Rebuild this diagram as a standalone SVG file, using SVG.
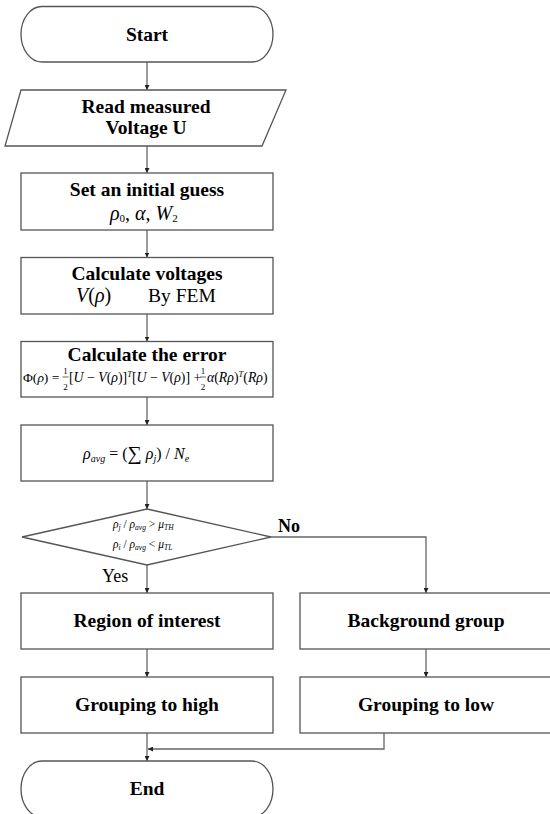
<svg xmlns="http://www.w3.org/2000/svg" width="550" height="814" viewBox="0 0 550 814">
<style>
.box{fill:#fff;stroke:#555;stroke-width:1.3}
.ln{fill:none;stroke:#666;stroke-width:1.3}
.t{font-family:"Liberation Serif",serif;font-weight:bold;font-size:19.5px;text-anchor:middle;fill:#000}
.r{font-family:"Liberation Serif",serif;font-size:19.5px;fill:#000}
.m{font-family:"Liberation Serif",serif;fill:#000}
.i{font-style:italic}
</style>
<defs>
<marker id="ah" viewBox="0 0 10 10" refX="10" refY="5" markerWidth="5" markerHeight="5" orient="auto" markerUnits="userSpaceOnUse">
<path d="M0,0 L10,5 L0,10 Z" fill="#222"/>
</marker>
</defs>
<rect width="550" height="814" fill="#fff"/>
<g id="connectors">
<line class="ln" x1="147" y1="62" x2="147" y2="90" marker-end="url(#ah)"/>
<line class="ln" x1="147" y1="146" x2="147" y2="173" marker-end="url(#ah)"/>
<line class="ln" x1="147" y1="230" x2="147" y2="257.5" marker-end="url(#ah)"/>
<line class="ln" x1="147" y1="314" x2="147" y2="341.5" marker-end="url(#ah)"/>
<line class="ln" x1="147" y1="397" x2="147" y2="425" marker-end="url(#ah)"/>
<line class="ln" x1="147" y1="481" x2="147" y2="509" marker-end="url(#ah)"/>
<line class="ln" x1="147" y1="565" x2="147" y2="593" marker-end="url(#ah)"/>
<polyline class="ln" points="271,537 426,537 426,593" marker-end="url(#ah)"/>
<line class="ln" x1="147" y1="649" x2="147" y2="677" marker-end="url(#ah)"/>
<line class="ln" x1="426" y1="649" x2="426" y2="677" marker-end="url(#ah)"/>
<line class="ln" x1="147" y1="733" x2="147" y2="761" marker-end="url(#ah)"/>
<polyline class="ln" points="384,733 384,749 148,749" marker-end="url(#ah)"/>
<text class="m" x="278" y="532" font-size="18" font-weight="bold">No</text>
<text class="m" x="102" y="582" font-size="18">Yes</text>
</g>
<g id="start">
<rect class="box" x="21" y="6.5" width="252" height="55.5" rx="21" ry="27.75"/>
<text class="t" x="147" y="41">Start</text>
</g>
<g id="read">
<polygon class="box" points="21,90 286,90 262,146 5,146"/>
<text class="t" x="146" y="113">Read measured</text>
<text class="t" x="146" y="134">Voltage U</text>
</g>
<g id="guess">
<rect class="box" x="21" y="173" width="252" height="57"/>
<text class="t" x="147" y="196">Set an initial guess</text>
<text class="m" x="110" y="220" font-size="20"><tspan class="i">ρ</tspan><tspan font-size="11" dy="2">0</tspan><tspan dy="-2">, </tspan><tspan class="i">α</tspan><tspan>, </tspan><tspan class="i">W</tspan><tspan font-size="11" dy="2">2</tspan></text>
</g>
<g id="fem">
<rect class="box" x="21" y="257.5" width="252" height="56.5"/>
<text class="t" x="147" y="280">Calculate voltages</text>
<text class="m" x="76" y="302" font-size="20"><tspan class="i">V</tspan>(<tspan class="i">ρ</tspan>)</text>
<text class="r" x="148" y="302">By FEM</text>
</g>
<g id="error">
<rect class="box" x="21" y="341.5" width="252" height="55.5"/>
<text class="t" x="147" y="361">Calculate the error</text>
<text class="m" x="23" y="382" font-size="13.5">Φ(<tspan class="i">ρ</tspan>) =</text>
<text class="m" x="65.5" y="374" font-size="9" text-anchor="middle">1</text>
<line x1="62.5" y1="377" x2="68.5" y2="377" stroke="#000" stroke-width="0.6"/>
<text class="m" x="65.5" y="390" font-size="9" text-anchor="middle">2</text>
<text class="m" x="69" y="382" font-size="13.8">[<tspan class="i">U</tspan> − <tspan class="i">V</tspan>(<tspan class="i">ρ</tspan>)]<tspan font-size="8.5" class="i" dy="-5">T</tspan><tspan dy="5">[</tspan><tspan class="i">U</tspan> − <tspan class="i">V</tspan>(<tspan class="i">ρ</tspan>)] +</text>
<text class="m" x="203" y="374" font-size="9" text-anchor="middle">1</text>
<line x1="200" y1="377" x2="206" y2="377" stroke="#000" stroke-width="0.6"/>
<text class="m" x="203" y="390" font-size="9" text-anchor="middle">2</text>
<text class="m" x="207" y="382" font-size="13.8"><tspan class="i">α</tspan>(<tspan class="i">Rρ</tspan>)<tspan font-size="8.5" class="i" dy="-5">T</tspan><tspan dy="5">(</tspan><tspan class="i">Rρ</tspan>)</text>
</g>
<g id="avg">
<rect class="box" x="21" y="425" width="252" height="56"/>
<text class="m" x="83" y="459" font-size="16"><tspan class="i">ρ</tspan><tspan class="i" font-size="10" dy="3">avg</tspan><tspan dy="-3"> = (</tspan><tspan font-size="20" dy="1">∑</tspan><tspan dy="-1"> </tspan><tspan class="i">ρ</tspan><tspan class="i" font-size="10" dy="3">j</tspan><tspan dy="-3">) / </tspan><tspan class="i">N</tspan><tspan class="i" font-size="10" dy="3">e</tspan></text>
</g>
<g id="decision">
<polygon class="box" points="147,509 271,537 147,565 22,537"/>
<text class="m" x="113" y="528" font-size="11.5"><tspan class="i">ρ</tspan><tspan class="i" font-size="7.5" dy="2">j</tspan><tspan dy="-2"> / </tspan><tspan class="i">ρ</tspan><tspan class="i" font-size="7.5" dy="2">avg</tspan><tspan dy="-2"> &gt; </tspan><tspan class="i">μ</tspan><tspan class="i" font-size="7.5" dy="2">TH</tspan></text>
<text class="m" x="113" y="548" font-size="11.5"><tspan class="i">ρ</tspan><tspan class="i" font-size="7.5" dy="2">i</tspan><tspan dy="-2"> / </tspan><tspan class="i">ρ</tspan><tspan class="i" font-size="7.5" dy="2">avg</tspan><tspan dy="-2"> &lt; </tspan><tspan class="i">μ</tspan><tspan class="i" font-size="7.5" dy="2">TL</tspan></text>
</g>
<g id="roi">
<rect class="box" x="21" y="593" width="252" height="56"/>
<text class="t" x="147" y="627">Region of interest</text>
</g>
<g id="background">
<rect class="box" x="300" y="593" width="252" height="56"/>
<text class="t" x="426" y="627">Background group</text>
</g>
<g id="high">
<rect class="box" x="21" y="677" width="252" height="56"/>
<text class="t" x="147" y="711">Grouping to high</text>
</g>
<g id="low">
<rect class="box" x="300" y="677" width="252" height="56"/>
<text class="t" x="426" y="711">Grouping to low</text>
</g>
<g id="end">
<rect class="box" x="21" y="761" width="252" height="56" rx="21" ry="28"/>
<text class="t" x="147" y="795">End</text>
</g>
</svg>
